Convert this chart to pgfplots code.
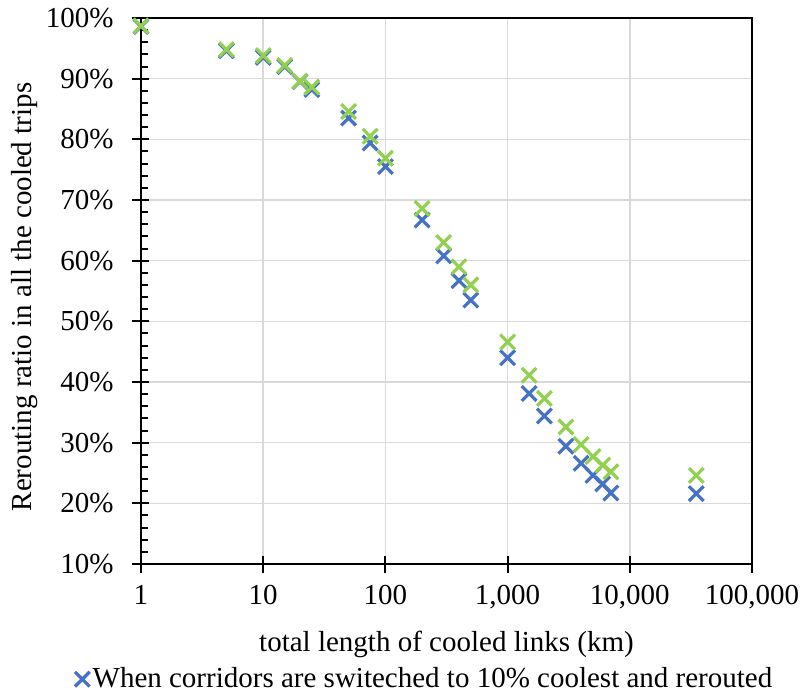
\documentclass[border=0pt]{standalone}
\usepackage{fontspec}
\setmainfont{Liberation Serif}
\usepackage{pgfplots}
\pgfplotsset{compat=1.18}
\definecolor{xblue}{HTML}{4472C4}
\definecolor{xgreen}{HTML}{92D050}
\definecolor{gridgray}{HTML}{D9D9D9}
\pgfplotstableread{
x      blue  green
1      98.6  98.7
5      94.6  94.8
10     93.5  93.8
15     92.0  92.2
20     89.5  89.6
25     88.2  88.6
50     83.5  84.6
75     79.4  80.5
100    75.5  76.9
200    66.7  68.6
300    60.8  63.0
400    56.7  59.0
500    53.5  56.0
1000   44.0  46.6
1500   38.1  41.1
2000   34.4  37.3
3000   29.4  32.6
4000   26.6  29.7
5000   24.6  27.7
6000   23.2  26.3
7000   21.7  25.2
35000  21.6  24.6
}\datatable
\begin{document}
\begin{tikzpicture}[font=\fontsize{14.5}{17}\selectfont]
\useasboundingbox (-70.5pt,-66pt) rectangle (330pt,282pt);
\begin{axis}[
  at={(0,0)}, anchor=south west,
  scale only axis, width=305.5pt, height=273pt,
  xmode=log, log basis x=10,
  xmin=1, xmax=100000, ymin=10, ymax=100,
  xtick={1,10,100,1000,10000,100000},
  xticklabels={1,10,100,{1,000},{10,000},{100,000}},
  ytick={10,20,30,40,50,60,70,80,90,100},
  yticklabels={10\%,20\%,30\%,40\%,50\%,60\%,70\%,80\%,90\%,100\%},
  minor y tick num=4,
  tick pos=left,
  tick align=inside,
  major tick length=4pt, minor tick length=3.75pt,
  tick style={black, line width=1pt},
  grid=major, major grid style={gridgray, line width=0.75pt},
  axis line style={black, line width=1.1pt},
  extra x ticks={1,10,100,1000,10000,100000},
  extra x tick labels={},
  extra y ticks={10,20,30,40,50,60,70,80,90,100},
  extra y tick labels={},
  extra tick style={tick align=outside, grid=none, major tick length=4.5pt},
  xticklabel style={yshift=-7pt},
  yticklabel style={xshift=-10.2pt},
  xlabel={total length of cooled links (km)},
  ylabel={Rerouting ratio in all the cooled trips},
  xlabel style={at={(axis description cs:0.5,-0.148)}, anchor=center},
  ylabel style={at={(axis description cs:-0.19,0.489)}, anchor=center},
  clip=false,
  legend style={at={(axis description cs:0.465,-0.211)}, anchor=center,
    draw=none, fill=none, inner sep=0pt, outer sep=0pt,
    nodes={inner sep=1.5pt}},
  legend cell align=left,
  legend image code/.code={\draw[#1] plot coordinates {(0cm,0cm)};},
]
\addplot[only marks, mark=x, mark size=5.2pt, xblue, line width=1.6pt,
  mark options={line width=1.6pt}] table[x=x, y=blue] {\datatable};
\addlegendentry{When corridors are switeched to 10\% coolest and rerouted}
\addplot[only marks, mark=x, mark size=5.2pt, xgreen, line width=1.6pt,
  mark options={line width=1.6pt}, forget plot] table[x=x, y=green] {\datatable};
\end{axis}
\end{tikzpicture}
\end{document}
